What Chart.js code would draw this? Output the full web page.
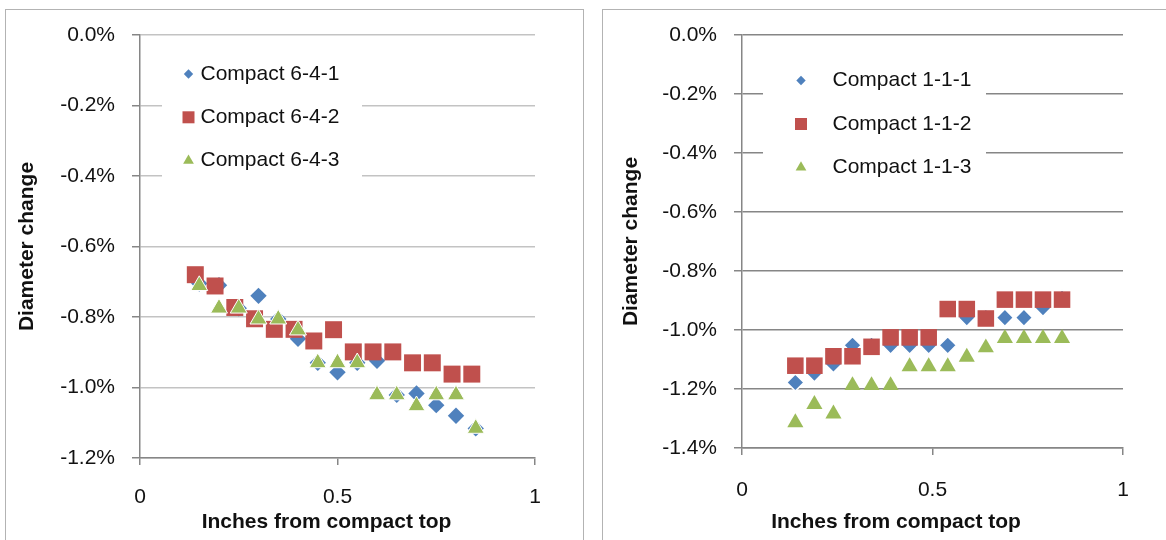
<!DOCTYPE html>
<html>
<head>
<meta charset="utf-8">
<title>Compact diameter change</title>
<script src="https://cdn.jsdelivr.net/npm/chart.js@4.4.1/dist/chart.umd.min.js"></script>
<style>
  html, body { margin: 0; padding: 0; background: #fff; width: 1166px; height: 540px; overflow: hidden; }
  .panel { position: absolute; top: 9px; height: 560px; border: 1px solid #b3b3b3; box-sizing: border-box; }
  #panelA { left: 5px; width: 579px; }
  #panelB { left: 602px; width: 620px; }
  canvas { position: absolute; top: 0; }
  #chartA { left: 0; }
  #chartB { left: 592px; }
</style>
</head>
<body>
<div class="panel" id="panelA"></div>
<div class="panel" id="panelB"></div>
<canvas id="chartA" width="592" height="540"></canvas>
<canvas id="chartB" width="574" height="540"></canvas>
<script>
// ---- data: position along the compact (inches) and diameter change (%) ----
const pos641 = [0.15, 0.20, 0.25, 0.30, 0.35, 0.40, 0.45, 0.50, 0.55, 0.60, 0.65, 0.70, 0.75, 0.80, 0.85];
const pos642 = [0.14, 0.19, 0.24, 0.29, 0.34, 0.39, 0.44, 0.49, 0.54, 0.59, 0.64, 0.69, 0.74, 0.79, 0.84];
const pos643 = [0.15, 0.20, 0.25, 0.30, 0.35, 0.40, 0.45, 0.50, 0.55, 0.60, 0.65, 0.70, 0.75, 0.80, 0.85];
const chg641 = [-0.705, -0.71, -0.775, -0.74, -0.806, -0.862, -0.93, -0.957, -0.93, -0.924, -1.021, -1.017, -1.05, -1.08, -1.116];
const chg642 = [-0.68, -0.712, -0.773, -0.805, -0.835, -0.835, -0.868, -0.836, -0.899, -0.899, -0.899, -0.93, -0.93, -0.962, -0.962];
const chg643 = [-0.711, -0.775, -0.775, -0.806, -0.806, -0.837, -0.93, -0.93, -0.93, -1.021, -1.021, -1.052, -1.021, -1.021, -1.116];

const pos111 = [0.14, 0.19, 0.24, 0.29, 0.34, 0.39, 0.44, 0.49, 0.54, 0.59, 0.64, 0.69, 0.74, 0.79, 0.84];
const pos112 = [0.14, 0.19, 0.24, 0.29, 0.34, 0.39, 0.44, 0.49, 0.54, 0.59, 0.64, 0.69, 0.74, 0.79, 0.84];
const pos113 = [0.14, 0.19, 0.24, 0.29, 0.34, 0.39, 0.44, 0.49, 0.54, 0.59, 0.64, 0.69, 0.74, 0.79, 0.84];
const chg111 = [-1.178, -1.146, -1.115, -1.052, -1.052, -1.052, -1.052, -1.052, -1.052, -0.958, -0.958, -0.958, -0.958, -0.924, -0.893];
const chg112 = [-1.121, -1.121, -1.089, -1.089, -1.057, -1.025, -1.025, -1.025, -0.929, -0.929, -0.961, -0.897, -0.897, -0.897, -0.897];
const chg113 = [-1.314, -1.252, -1.284, -1.188, -1.188, -1.188, -1.124, -1.124, -1.124, -1.092, -1.060, -1.028, -1.028, -1.028, -1.028];

const seriesNamesA = ['Compact 6-4-1', 'Compact 6-4-2', 'Compact 6-4-3'];
const seriesNamesB = ['Compact 1-1-1', 'Compact 1-1-2', 'Compact 1-1-3'];
const xTickLabels = { 0: '0', 0.5: '0.5', 1: '1' };
const yAxisTitle = 'Diameter change';
const xAxisTitle = 'Inches from compact top';

// ---- styling ----
const FONT = "'Liberation Sans', Arial, sans-serif";
const TEXT = '#111111';
const AXIS = '#868686';
const BLUE = '#4F81BD', RED = '#C0504D', GREEN = '#9BBB59';

Chart.defaults.font.family = FONT;
Chart.defaults.font.size = 21;
Chart.defaults.color = TEXT;

function pts(xs, ys) { return xs.map((x, i) => ({ x: x, y: ys[i] })); }
function pct(v) { return (Math.round(v * 10) / 10).toFixed(1) + '%'; }

// marker path used by the inset legend
function markerPath(ctx, style, x, y, r) {
  ctx.beginPath();
  if (style === 'rectRot') {
    ctx.moveTo(x - r, y); ctx.lineTo(x, y - r); ctx.lineTo(x + r, y); ctx.lineTo(x, y + r);
  } else if (style === 'rect') {
    ctx.rect(x - r, y - r, 2 * r, 2 * r);
  } else {
    ctx.moveTo(x, y - r); ctx.lineTo(x + 0.866 * r, y + 0.5 * r); ctx.lineTo(x - 0.866 * r, y + 0.5 * r);
  }
  ctx.closePath();
}

// legend drawn inside the plot on a white box
const insetLegend = {
  id: 'insetLegend',
  beforeDatasetsDraw(chart, args, o) {
    const ctx = chart.ctx;
    ctx.save();
    ctx.fillStyle = '#ffffff';
    ctx.fillRect(o.boxX, o.boxY, o.boxW, o.boxH);
    ctx.font = '21px ' + FONT;
    ctx.textBaseline = 'middle';
    ctx.textAlign = 'left';
    chart.data.datasets.forEach((ds, i) => {
      const y = o.rows[i];
      markerPath(ctx, ds.pointStyle, o.markerX, y, o.sizes[i]);
      ctx.fillStyle = ds.backgroundColor;
      ctx.fill();
      ctx.fillStyle = TEXT;
      ctx.fillText(ds.label, o.textX, y);
    });
    ctx.restore();
  }
};

// bold caption under the horizontal axis
const axisCaption = {
  id: 'axisCaption',
  afterDraw(chart, args, o) {
    const ctx = chart.ctx;
    ctx.save();
    ctx.font = 'bold 21px ' + FONT;
    ctx.fillStyle = TEXT;
    ctx.textAlign = 'center';
    ctx.textBaseline = 'middle';
    ctx.fillText(o.text, o.x, o.y);
    ctx.restore();
  }
};

function buildChart(canvasId, cfg) {
  return new Chart(document.getElementById(canvasId), {
    type: 'scatter',
    data: { datasets: cfg.datasets },
    plugins: [insetLegend, axisCaption],
    options: {
      responsive: false,
      animation: false,
      events: [],
      layout: { padding: { left: 0, top: 35, right: cfg.padRight, bottom: 0 } },
      plugins: {
        legend: { display: false },
        tooltip: { enabled: false },
        insetLegend: cfg.legend,
        axisCaption: cfg.caption
      },
      scales: {
        x: {
          type: 'linear', min: 0, max: 1,
          ticks: { stepSize: 0.5, padding: cfg.xTickPad, color: TEXT, callback: v => xTickLabels[v] },
          grid: { drawOnChartArea: false, tickLength: 7, tickColor: AXIS, lineWidth: 1.5 },
          border: { color: AXIS, width: 1.5 },
          afterFit: s => { s.height = cfg.xHeight; }
        },
        y: {
          type: 'linear', min: cfg.yMin, max: 0,
          ticks: { stepSize: 0.2, padding: 17, color: TEXT, callback: pct },
          grid: { color: cfg.gridColor, lineWidth: 1.5, tickLength: 8, tickColor: AXIS },
          border: { color: AXIS, width: 1.5 },
          title: { display: true, text: yAxisTitle, color: TEXT, font: { weight: 'bold', size: 21 }, padding: { top: cfg.yTitlePad, bottom: 0 } },
          afterFit: s => { s.width = cfg.yWidth; }
        }
      }
    }
  });
}

buildChart('chartA', {
  padRight: 57, xHeight: 82, yWidth: 140, yMin: -1.2, xTickPad: 20, yTitlePad: 15,
  gridColor: '#c3c3c3',
  legend: { boxX: 162, boxY: 50, boxW: 200, boxH: 134, markerX: 188.5, textX: 200.5, rows: [74, 117.3, 160.7], sizes: [4.7, 6, 6.2] },
  caption: { text: xAxisTitle, x: 326.5, y: 522 },
  datasets: [
    { label: seriesNamesA[0], data: pts(pos641, chg641), order: 3, pointStyle: 'rectRot', pointRadius: 8.2, backgroundColor: BLUE, borderColor: BLUE, borderWidth: 0 },
    { label: seriesNamesA[1], data: pts(pos642, chg642), order: 2, pointStyle: 'rect', pointRadius: 12, backgroundColor: RED, borderColor: RED, borderWidth: 0 },
    { label: seriesNamesA[2], data: pts(pos643, chg643), order: 1, pointStyle: 'triangle', pointRadius: 9.8, backgroundColor: GREEN, borderColor: '#ffffff', borderWidth: 1 }
  ]
});

buildChart('chartB', {
  padRight: 43, xHeight: 92, yWidth: 150, yMin: -1.4, xTickPad: 23, yTitlePad: 27,
  gridColor: AXIS,
  legend: { boxX: 171, boxY: 54, boxW: 223, boxH: 138, markerX: 209, textX: 240.5, rows: [80.5, 124, 167.5], sizes: [4.7, 6, 6.2] },
  caption: { text: xAxisTitle, x: 304, y: 522 },
  datasets: [
    { label: seriesNamesB[0], data: pts(pos111, chg111), order: 3, pointStyle: 'rectRot', pointRadius: 8.6, backgroundColor: BLUE, borderColor: '#ffffff', borderWidth: 1.5 },
    { label: seriesNamesB[1], data: pts(pos112, chg112), order: 2, pointStyle: 'rect', pointRadius: 11.7, backgroundColor: RED, borderColor: RED, borderWidth: 0 },
    { label: seriesNamesB[2], data: pts(pos113, chg113), order: 1, pointStyle: 'triangle', pointRadius: 9.3, backgroundColor: GREEN, borderColor: GREEN, borderWidth: 0 }
  ]
});
</script>
</body>
</html>
